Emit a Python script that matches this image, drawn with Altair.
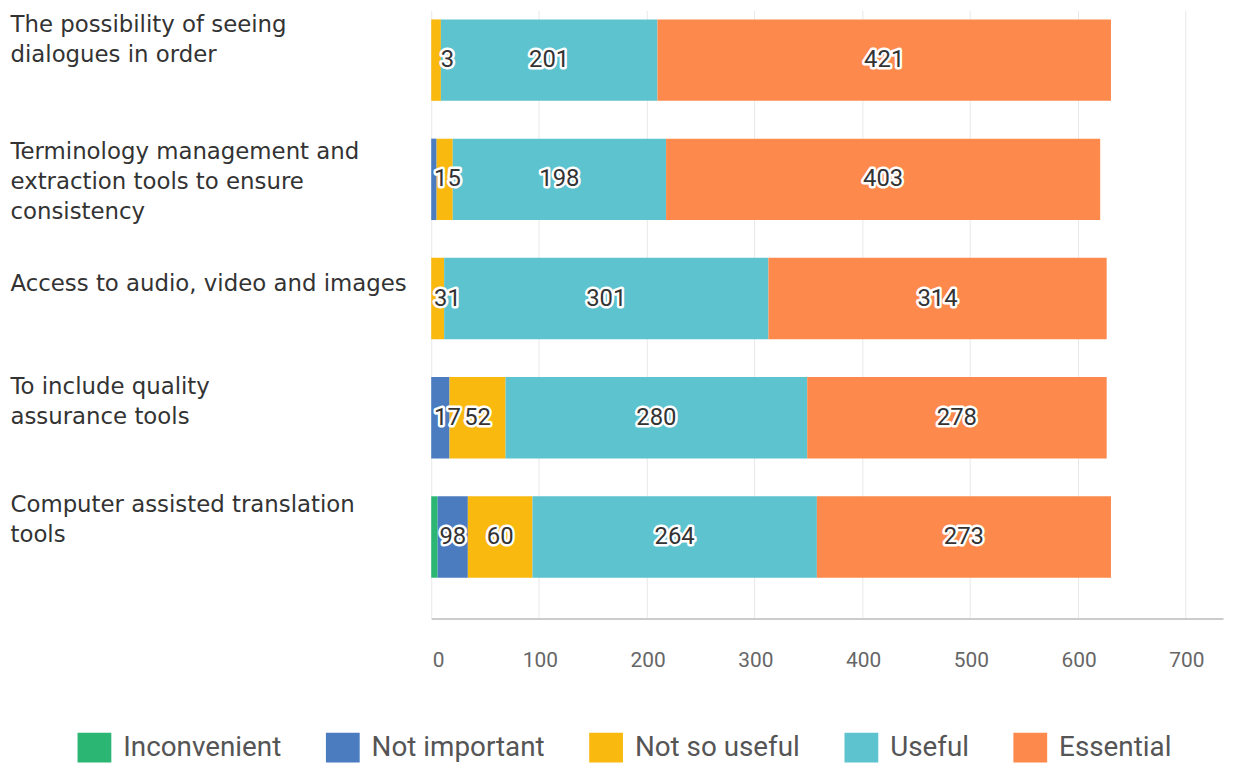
import altair as alt
import pandas as pd

categories = [
    "The possibility of seeing\ndialogues in order",
    "Terminology management and\nextraction tools to ensure\nconsistency",
    "Access to audio, video and images",
    "To include quality\nassurance tools",
    "Computer assisted translation\ntools",
]
series = ["Inconvenient", "Not important", "Not so useful", "Useful", "Essential"]
colors = ["#2bb673", "#4b7cc0", "#f9b90f", "#5cc3cf", "#fd8a4c"]

inconvenient = [0, 0, 0, 0, 6]
not_important = [0, 5, 0, 17, 28]
not_so_useful = [9, 15, 12, 52, 60]
useful = [201, 198, 301, 280, 264]
essential = [421, 403, 314, 278, 273]

# segment labels as printed on the reference
inconvenient_labels = ["", "", "", "", ""]
not_important_labels = ["", "", "", "17", "98"]
not_so_useful_labels = ["3", "15", "31", "52", "60"]
useful_labels = ["201", "198", "301", "280", "264"]
essential_labels = ["421", "403", "314", "278", "273"]

x_ticks = [0, 100, 200, 300, 400, 500, 600, 700]

values = [inconvenient, not_important, not_so_useful, useful, essential]
labels = [inconvenient_labels, not_important_labels, not_so_useful_labels,
          useful_labels, essential_labels]

rows = []
for si, s in enumerate(series):
    for ci, c in enumerate(categories):
        rows.append({"category": c, "series": s, "idx": si,
                     "value": values[si][ci], "label": labels[si][ci]})
df = pd.DataFrame(rows)

base = alt.Chart(df).transform_stack(
    stack="value", groupby=["category"],
    sort=[alt.SortField("idx", order="ascending")], as_=["x0", "x1"]
)

label_offset = {
    "condition": [
        {"test": "indexof(datum.value, 'The possibility') === 0", "value": -35},
        {"test": "indexof(datum.value, 'Terminology') === 0", "value": -27},
        {"test": "indexof(datum.value, 'Access') === 0", "value": -15},
        {"test": "indexof(datum.value, 'To include') === 0", "value": -31},
    ],
    "value": -32,
}

yaxis = alt.Axis(
    grid=False, domain=False, ticks=False,
    labelAlign="left", labelBaseline="middle", labelOffset=label_offset,
    labelPadding=424, labelFont="DejaVu Sans", labelFontSize=23,
    labelColor="#333333", labelLineHeight=30, labelLimit=600,
    labelExpr="split(datum.label, '\\n')",
)
yenc = alt.Y("category:N", sort=categories, title=None, axis=yaxis,
             scale=alt.Scale(paddingInner=0.317, paddingOuter=0.2085, align=0.18))
xscale = alt.Scale(domain=[0, 735], nice=False, zero=True)

bars = base.mark_bar().encode(
    y=yenc,
    x=alt.X("x0:Q", scale=xscale, title=None, axis=alt.Axis(values=x_ticks)),
    x2="x1:Q",
    color=alt.Color("series:N", scale=alt.Scale(domain=series, range=colors),
                    title=None,
                    legend=alt.Legend(orient="none", direction="horizontal",
                                      legendX=-356, legendY=725,
                                      columns=5, columnPadding=44)),
)

txt_base = base.transform_filter("datum.label != ''").transform_calculate(
    mid="max((datum.x0 + datum.x1) / 2, 15)"
)

halo = txt_base.mark_text(fontSize=24, font="Roboto", color="white",
                          stroke="white", strokeWidth=5, strokeJoin="round").encode(
    y=yenc, x=alt.X("mid:Q", scale=xscale, title=None), text="label:N")
text = txt_base.mark_text(fontSize=24, font="Roboto", color="#333333").encode(
    y=yenc, x=alt.X("mid:Q", scale=xscale, title=None), text="label:N")

chart = alt.layer(bars, halo, text).properties(
    width=797, height=612,
    autosize=alt.AutoSizeParams(type="none"),
    padding={"left": 426, "top": 0, "right": 3, "bottom": 146},
).configure_view(stroke=None).configure_axisX(
    grid=True, gridColor="#e8e8e8", gridWidth=1,
    domainColor="#cccccc", domainWidth=2, ticks=False,
    labelFont="Roboto", labelFontSize=21, labelColor="#666666",
    labelPadding=31, labelOffset=1,
).configure_legend(
    labelFont="Roboto", labelFontSize=28, labelColor="#555555", labelLimit=400,
    symbolType="M-1,-0.88H1V0.88H-1Z", symbolSize=1156, symbolStrokeWidth=0,
    labelOffset=12,
)

chart.save("out.html", embed_options={"renderer": "svg", "actions": False})
